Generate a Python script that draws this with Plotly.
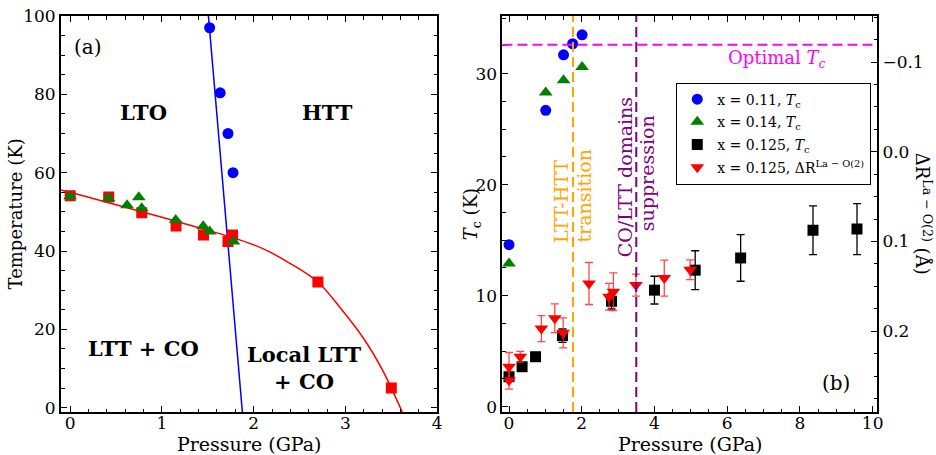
import plotly.graph_objects as go

# ---------------- Panel (a) data ----------------
a_blue_P = [1.52, 1.635, 1.72, 1.775]
a_blue_T = [97.0, 80.4, 70.0, 60.0]
a_blue_line_P = [1.505, 1.877]
a_blue_line_T = [100.5, -1.2]
a_red_P = [0.0, 0.42, 0.78, 1.154, 1.453, 1.72, 1.77, 2.70, 3.50]
a_red_T = [54.1, 53.8, 49.8, 46.4, 44.1, 42.4, 44.1, 32.1, 5.0]
a_green_P = [0.0, 0.42, 0.62, 0.748, 0.78, 1.15, 1.45, 1.52, 1.78]
a_green_T = [54.0, 53.5, 51.7, 53.7, 50.9, 47.9, 46.3, 45.0, 42.4]
a_curve_P = [-0.1, 0.0, 0.5, 1.0, 1.5, 1.8, 2.1, 2.4, 2.7, 2.95, 3.2, 3.4, 3.5, 3.62]
a_curve_T = [55.6, 55.0, 51.8, 48.6, 45.3, 43.2, 40.6, 36.8, 32.1, 25.3, 17.6, 9.8, 5.0, -1.1]

# ---------------- Panel (b) data ----------------
b_blue_P = [0.0, 1.01, 1.50, 1.75, 2.01]
b_blue_Tc = [14.6, 26.7, 31.7, 32.7, 33.5]
b_green_P = [0.0, 1.01, 1.50, 2.01]
b_green_Tc = [12.9, 28.3, 29.4, 30.6]
b_black_P = [0.0, 0.36, 0.73, 1.47, 2.82, 4.0, 5.12, 6.37, 8.36, 9.57]
b_black_Tc = [2.7, 3.6, 4.5, 6.4, 9.5, 10.5, 12.3, 13.4, 15.9, 16.0]
b_black_err = [0.4, 0.3, 0.3, 0.6, 0.7, 1.25, 1.75, 2.1, 2.2, 2.3]
b_red_P = [0.0, 0.0, 0.31, 0.89, 1.26, 1.49, 2.20, 2.75, 2.87, 3.49, 4.27, 4.98]
b_red_dR = [0.2397, 0.2545, 0.2285, 0.197, 0.1856, 0.2018, 0.1468, 0.1616, 0.156, 0.1486, 0.1408, 0.1315]
b_red_err = [0.016, 0.010, 0.006, 0.0145, 0.016, 0.0167, 0.0234, 0.0149, 0.021, 0.0123, 0.020, 0.011]
optimal_Tc = 32.6
transition_P = [1.76, 3.5]

FONT = "DejaVu Serif"
RED = "#ff0000"
GREEN = "#008000"
BLUE = "#0000ff"

fig = go.Figure()

# Panel (a)
fig.add_trace(go.Scatter(x=a_blue_line_P, y=a_blue_line_T, mode="lines",
                         line=dict(color=BLUE, width=1.5), xaxis="x", yaxis="y", showlegend=False))
fig.add_trace(go.Scatter(x=a_curve_P, y=a_curve_T, mode="lines", line=dict(color=RED, width=1.5, shape="spline"),
                         xaxis="x", yaxis="y", showlegend=False))
fig.add_trace(go.Scatter(x=a_red_P, y=a_red_T, mode="markers",
                         marker=dict(symbol="square", size=11, color=RED, line=dict(width=0)),
                         xaxis="x", yaxis="y", showlegend=False))
fig.add_trace(go.Scatter(x=a_green_P, y=a_green_T, mode="markers",
                         marker=dict(symbol="triangle-up", size=12, color=GREEN, line=dict(width=0)),
                         xaxis="x", yaxis="y", showlegend=False))
fig.add_trace(go.Scatter(x=a_blue_P, y=a_blue_T, mode="markers",
                         marker=dict(symbol="circle", size=11, color=BLUE, line=dict(width=0)),
                         xaxis="x", yaxis="y", showlegend=False))

# Panel (b)
fig.add_trace(go.Scatter(x=b_blue_P, y=b_blue_Tc, mode="markers", name="x = 0.11, <i>T</i><sub>c</sub>",
                         legendgroup="g1",
                         marker=dict(symbol="circle", size=11, color=BLUE, line=dict(width=0)),
                         xaxis="x2", yaxis="y2"))
fig.add_trace(go.Scatter(x=b_green_P, y=b_green_Tc, mode="markers", name="x = 0.14, <i>T</i><sub>c</sub>",
                         legendgroup="g2",
                         marker=dict(symbol="triangle-up", size=12, color=GREEN, line=dict(width=0)),
                         xaxis="x2", yaxis="y2"))
fig.add_trace(go.Scatter(x=b_black_P, y=b_black_Tc, mode="markers", name="x = 0.125, <i>T</i><sub>c</sub>",
                         legendgroup="g3",
                         marker=dict(symbol="square", size=11, color="black", line=dict(width=0)),
                         error_y=dict(type="data", array=b_black_err, color="black", thickness=1.3, width=4),
                         xaxis="x2", yaxis="y2"))
fig.add_trace(go.Scatter(x=b_red_P, y=b_red_dR, mode="markers", name="x = 0.125, ΔR<sup>La − O(2)</sup>",
                         legendgroup="g4",
                         marker=dict(symbol="triangle-down", size=12, color=RED, line=dict(width=0)),
                         error_y=dict(type="data", array=b_red_err, color="rgba(255,40,40,0.85)", thickness=1.3, width=4),
                         xaxis="x2", yaxis="y3"))

common_axis = dict(showline=True, linecolor="black", linewidth=2, ticks="inside", ticklen=6, tickwidth=1.3,
                   tickcolor="black", showgrid=False, zeroline=False, automargin=False,
                   tickfont=dict(family=FONT, size=17, color="black"))

fig.update_layout(
    width=936, height=455,
    margin=dict(l=61, r=59, t=16, b=43),
    plot_bgcolor="white", paper_bgcolor="white",
    font=dict(family=FONT, size=17, color="black"),
    xaxis=dict(domain=[0, 0.461], range=[-0.1, 4.0], dtick=1, mirror="ticks", ticklabelstandoff=-5,
               minor=dict(dtick=0.2, ticks="inside", ticklen=3.5, tickcolor="black"), anchor="y",
               **common_axis),
    yaxis=dict(domain=[0, 1], range=[-1.1, 100], dtick=20, mirror="ticks",
               minor=dict(dtick=5, ticks="inside", ticklen=3.5, tickcolor="black"), anchor="x",
               **common_axis),
    xaxis2=dict(domain=[0.541, 1], range=[-0.18, 10.12], dtick=2, mirror="ticks", ticklabelstandoff=-5,
                minor=dict(dtick=0.5, ticks="inside", ticklen=3.5, tickcolor="black"), anchor="y2",
                **common_axis),
    yaxis2=dict(domain=[0, 1], range=[-0.48, 35.2], dtick=10, anchor="x2",
                minor=dict(dtick=2.5, ticks="inside", ticklen=3.5, tickcolor="black"),
                **common_axis),
    yaxis3=dict(range=[0.290, -0.1513], dtick=0.1, tick0=0, tickformat=".1f", overlaying="y2", side="right",
                anchor="x2",
                minor=dict(dtick=0.025, ticks="inside", ticklen=3.5, tickcolor="black"),
                **common_axis),
    legend=dict(x=0.754, y=0.832, xanchor="left", yanchor="top", bordercolor="black", borderwidth=1,
                bgcolor="white", font=dict(family=FONT, size=14), tracegroupgap=1.5),
)

# dashed reference lines
fig.add_shape(type="line", xref="x2 domain", yref="y2", x0=0, x1=1, y0=optimal_Tc, y1=optimal_Tc,
              line=dict(color="#ff00ff", width=2, dash="10px,5px"))
fig.add_shape(type="line", xref="x2", yref="y2 domain", x0=transition_P[0], x1=transition_P[0], y0=0, y1=1,
              line=dict(color="#ffa500", width=2, dash="10px,5px"))
fig.add_shape(type="line", xref="x2", yref="y2 domain", x0=transition_P[1], x1=transition_P[1], y0=0, y1=1,
              line=dict(color="#800080", width=2, dash="10px,5px"))

def ann(x, y, text, xref, yref, size=20, color="black", angle=0, bold=False):
    fig.add_annotation(x=x, y=y, xref=xref, yref=yref, text=f"<b>{text}</b>" if bold else text,
                       showarrow=False, textangle=angle, xanchor="center", yanchor="middle",
                       font=dict(family=FONT, size=size, color=color))

# axis titles
ann(0.2305, -0.081, "Pressure (GPa)", "paper", "paper", size=19)
ann(0.7705, -0.081, "Pressure (GPa)", "paper", "paper", size=19)
ann(-0.0558, 0.5, "Temperature (K)", "paper", "paper", size=18, angle=-90)
ann(0.5039, 0.5, "<i>T</i><sub>c</sub> (K)", "paper", "paper", size=18, angle=-90)
ann(1.0567, 0.5, "ΔR<sup>La − O(2)</sup> (Å)", "paper", "paper", size=18, angle=90)

# panel texts
ann(0.19, 92, "(a)", "x", "y", size=20)
ann(0.80, 75.3, "LTO", "x", "y", size=21, bold=True)
ann(2.80, 75.3, "HTT", "x", "y", size=21, bold=True)
ann(0.80, 15.2, "LTT + CO", "x", "y", size=21, bold=True)
ann(2.55, 10.2, "Local LTT<br>+ CO", "x", "y", size=21, bold=True)

ann(9.0, 2.1, "(b)", "x2", "y2", size=20)
ann(7.36, 31.3, "Optimal <i>T<sub>c</sub></i>", "x2", "y2", size=18, color="#ff00ff")
ann(1.45, 18.5, "LTT-HTT", "x2", "y2", size=19, color="#ffa500", angle=-90)
ann(2.07, 19.05, "transition", "x2", "y2", size=19, color="#ffa500", angle=-90)
ann(3.20, 20.7, "CO/LTT domains", "x2", "y2", size=19, color="#800080", angle=-90)
ann(3.80, 21.05, "suppression", "x2", "y2", size=19, color="#800080", angle=-90)

fig.write_html("out.html")
